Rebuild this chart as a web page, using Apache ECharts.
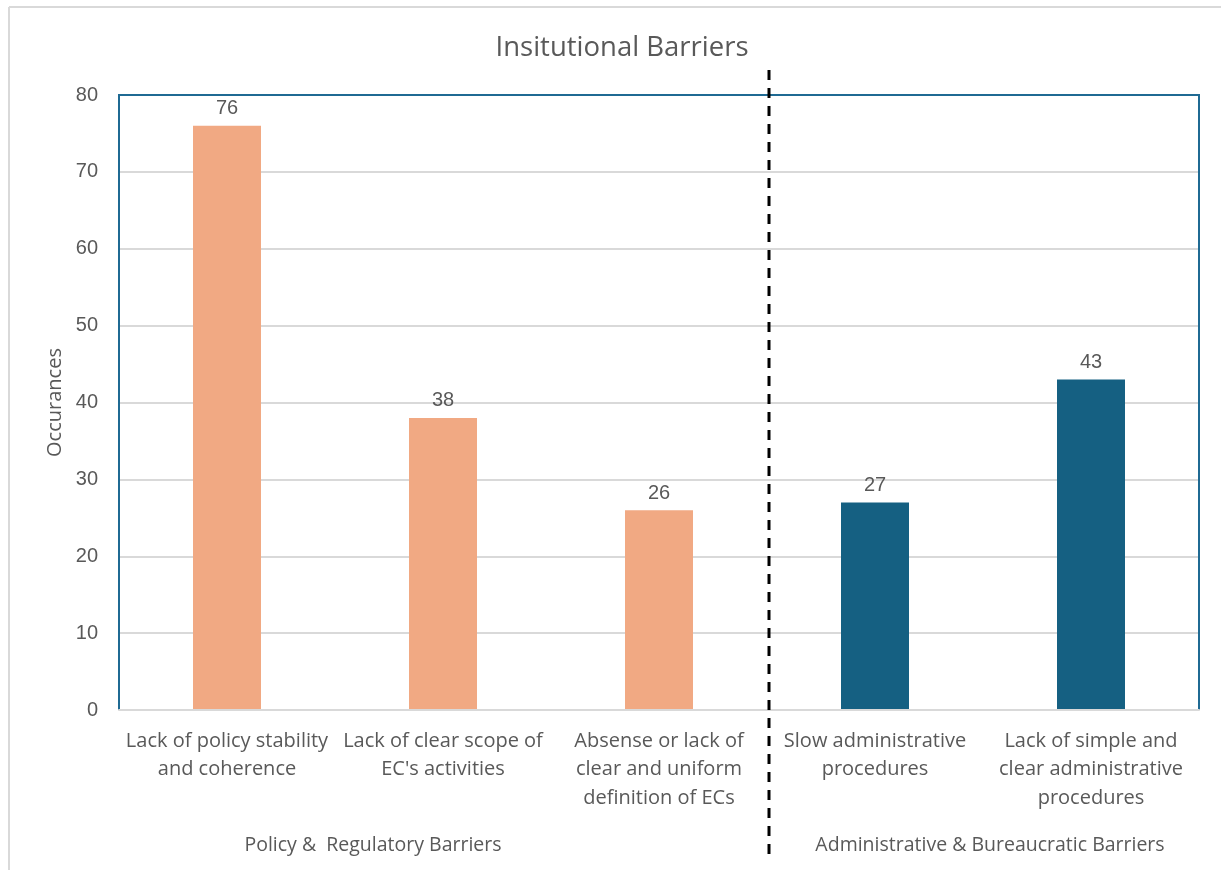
<!DOCTYPE html>
<html>
<head>
<meta charset="utf-8">
<script src="https://cdn.jsdelivr.net/npm/echarts@6/dist/echarts.min.js"></script>
<style>
  html, body { margin: 0; padding: 0; background: #ffffff; }
  #chart { width: 1221px; height: 870px; }
</style>
</head>
<body>
<div id="chart"></div>
<script>
const titleText = 'Insitutional Barriers';
const categories = [
  'Lack of policy stability\nand coherence',
  "Lack of clear scope of\nEC's activities",
  'Absense or lack of\nclear and uniform\ndefinition of ECs',
  'Slow administrative\nprocedures',
  'Lack of simple and\nclear administrative\nprocedures'
];
const values = [76, 38, 26, 27, 43];
const groupOf = [0, 0, 0, 1, 1];
const groupNames = ['Policy &  Regulatory Barriers', 'Administrative & Bureaucratic Barriers'];
const groupColors = ['#F1A983', '#156082'];
const yTicks = { min: 0, max: 80, interval: 10 };
const yName = 'Occurances';

const textFont = '"Open Sans", "Noto Sans", sans-serif';
const numFont = '"Liberation Sans", Arial, sans-serif';

const chart = echarts.init(document.getElementById('chart'));
const option = {
  backgroundColor: '#ffffff',
  animation: false,
  title: {
    text: titleText,
    left: 617, top: 29, textAlign: 'center',
    textStyle: { fontFamily: textFont, fontSize: 27.5, fontWeight: 'normal', color: '#595959' }
  },
  grid: {
    left: 119, right: 22, top: 95, bottom: 160,
    show: false
  },
  xAxis: {
    type: 'category',
    data: categories,
    z: 5,
    axisLine: { show: true, lineStyle: { color: '#D9D9D9', width: 2 } },
    axisTick: { show: false },
    axisLabel: {
      interval: 0, margin: 17, lineHeight: 28.5,
      fontFamily: textFont, fontSize: 20, color: '#595959', align: 'center'
    }
  },
  yAxis: {
    type: 'value',
    min: yTicks.min, max: yTicks.max, interval: yTicks.interval,
    name: yName, nameLocation: 'middle', nameGap: 54, nameRotate: 90,
    nameTextStyle: { fontFamily: textFont, fontSize: 20, color: '#595959' },
    axisLine: { show: false },
    axisTick: { show: false },
    axisLabel: { fontFamily: numFont, fontSize: 20, color: '#595959', margin: 21 },
    splitLine: { showMaxLine: false, lineStyle: { color: '#D9D9D9', width: 2 } }
  },
  series: [{
    type: 'bar',
    barWidth: 68,
    data: values.map((v, i) => ({ value: v, itemStyle: { color: groupColors[groupOf[i]] } })),
    label: {
      show: true, position: 'top', distance: 7,
      fontFamily: numFont, fontSize: 20, color: '#595959'
    }
  }]
};
chart.setOption(option);

function drawExtras() {
  const xs = categories.map((c, i) => chart.convertToPixel({ xAxisIndex: 0 }, i));
  const yTop = chart.convertToPixel({ yAxisIndex: 0 }, yTicks.max);
  const yBot = chart.convertToPixel({ yAxisIndex: 0 }, yTicks.min);
  const step = xs[1] - xs[0];
  const left = xs[0] - step / 2;
  const right = xs[xs.length - 1] + step / 2;
  const divX = (xs[2] + xs[3]) / 2 + 2;
  const g0 = (xs[0] + xs[2]) / 2 - 70;
  const g1 = (xs[3] + xs[4]) / 2 + 7;
  chart.setOption({
    graphic: [
      { type: 'line', shape: { x1: 9, y1: 7, x2: 1221, y2: 7 }, style: { stroke: '#D9D9D9', lineWidth: 2 }, silent: true },
      { type: 'line', shape: { x1: 9, y1: 7, x2: 9, y2: 870 }, style: { stroke: '#D9D9D9', lineWidth: 2 }, silent: true },
      { type: 'polyline', z: 4, shape: { points: [[left, yBot], [left, yTop], [right, yTop], [right, yBot]] }, style: { stroke: '#1F6A93', lineWidth: 2, fill: null }, silent: true },
      { type: 'line', z: 10, shape: { x1: divX, y1: 70, x2: divX, y2: 862 }, style: { stroke: '#000000', lineWidth: 3, lineDash: [10, 8] }, silent: true },
      { type: 'text', x: g0, y: 845, style: { text: groupNames[0], fontFamily: textFont, fontSize: 19.5, fill: '#595959', align: 'center', verticalAlign: 'middle' } },
      { type: 'text', x: g1, y: 845, style: { text: groupNames[1], fontFamily: textFont, fontSize: 19.5, fill: '#595959', align: 'center', verticalAlign: 'middle' } }
    ]
  });
}
drawExtras();
</script>
</body>
</html>
